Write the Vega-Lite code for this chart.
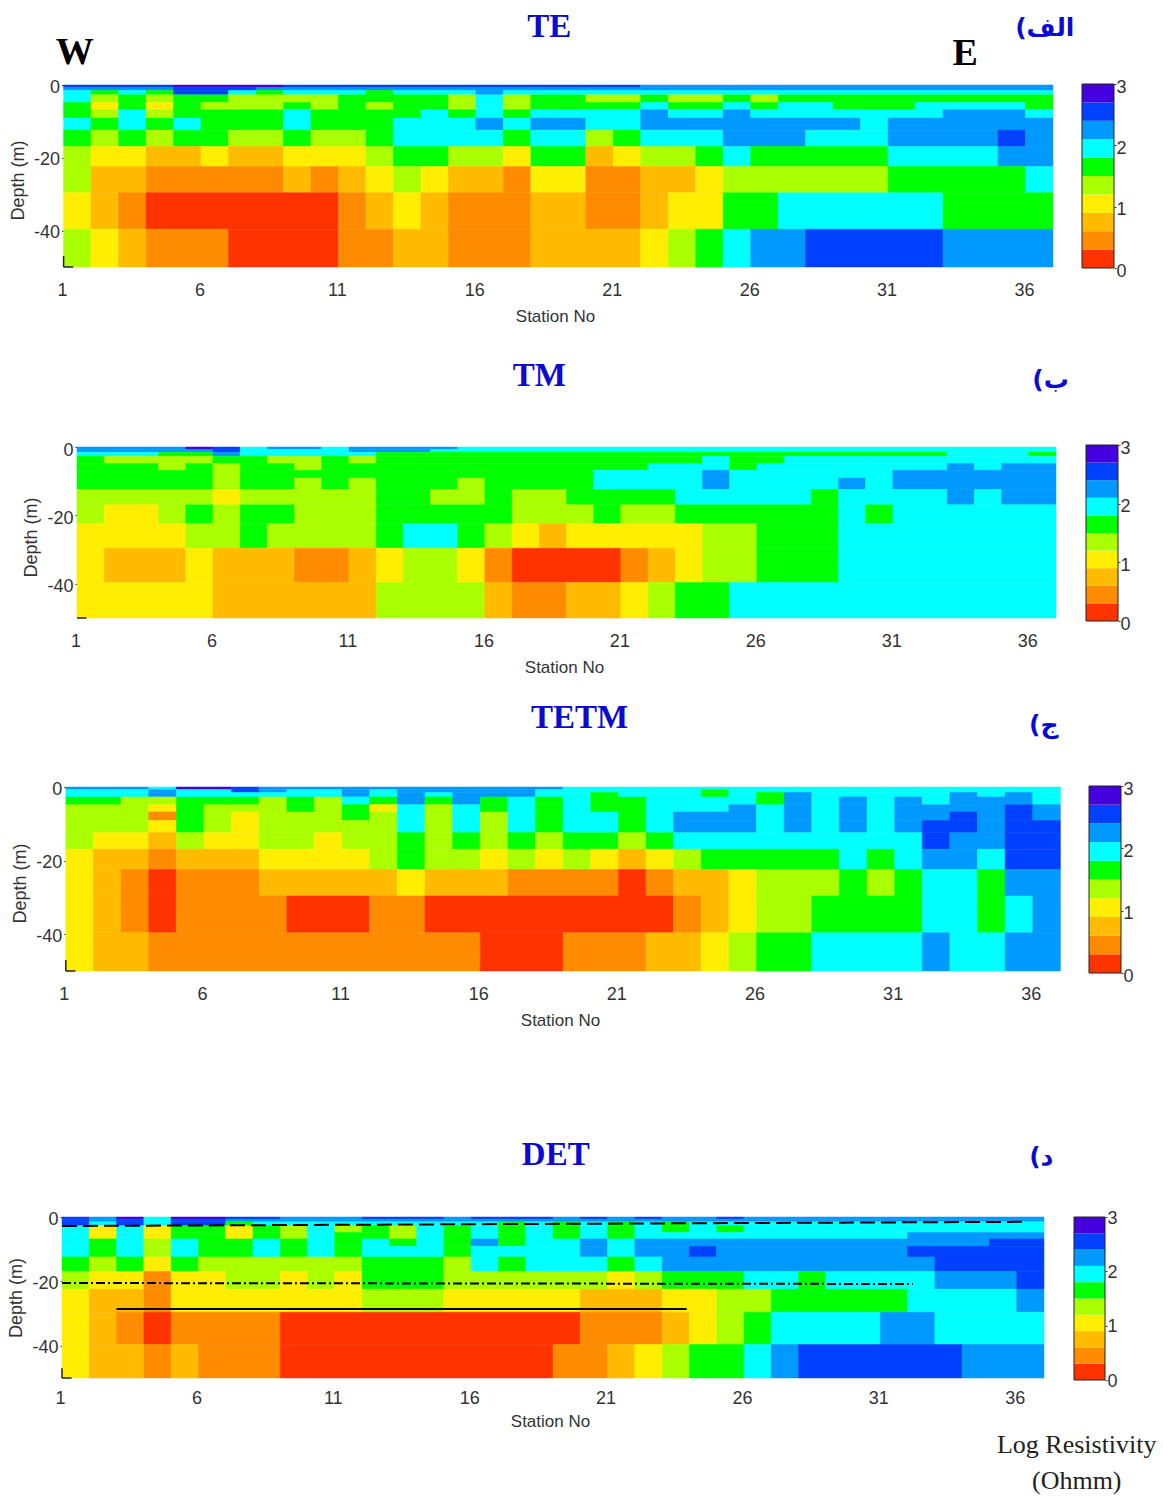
{"$schema":"https://vega.github.io/schema/vega-lite/v6.json","background":"white","padding":0,"bounds":"flush","columns":3,"align":{"row":"each","column":"each"},"spacing":{"row":0,"column":9},
"config":{"view":{"stroke":null},"axis":{"grid":false,"domain":false,"labelFlush":false,"labelFont":"Liberation Sans","labelFontSize":18,"labelColor":"#333","titleColor":"#333","tickColor":"#333"}},
"datasets":{
"bar":[{"t":0,"b":0.3,"v":0.15},{"t":0.3,"b":0.6,"v":0.45},{"t":0.6,"b":0.9,"v":0.75},{"t":0.9,"b":1.2,"v":1.05},{"t":1.2,"b":1.5,"v":1.35},{"t":1.5,"b":1.8,"v":1.65},{"t":1.8,"b":2.1,"v":1.95},{"t":2.1,"b":2.4,"v":2.25},{"t":2.4,"b":2.7,"v":2.55},{"t":2.7,"b":3,"v":2.85}],
"te":[
{"s":1,"e":5,"t":0,"b":-0.7,"v":2.55},{"s":5,"e":9,"t":0,"b":-0.7,"v":2.85},{"s":9,"e":22,"t":0,"b":-0.7,"v":2.55},{"s":22,"e":37,"t":0,"b":-0.7,"v":2.25},
{"s":1,"e":5,"t":-0.7,"b":-1.5,"v":2.25},{"s":5,"e":8,"t":-0.7,"b":-1.5,"v":2.55},{"s":8,"e":37,"t":-0.7,"b":-1.5,"v":2.25},
{"s":1,"e":2,"t":-1.5,"b":-2.7,"v":1.95},{"s":2,"e":3,"t":-1.5,"b":-2.7,"v":1.65},{"s":3,"e":4,"t":-1.5,"b":-2.7,"v":1.95},{"s":4,"e":5,"t":-1.5,"b":-2.7,"v":1.65},{"s":5,"e":7,"t":-1.5,"b":-2.7,"v":2.55},{"s":7,"e":8,"t":-1.5,"b":-2.7,"v":1.95},{"s":8,"e":9,"t":-1.5,"b":-2.7,"v":1.65},{"s":9,"e":12,"t":-1.5,"b":-2.7,"v":1.95},{"s":12,"e":13,"t":-1.5,"b":-2.7,"v":1.65},{"s":13,"e":16,"t":-1.5,"b":-2.7,"v":1.95},{"s":16,"e":17,"t":-1.5,"b":-2.7,"v":2.25},{"s":17,"e":37,"t":-1.5,"b":-2.7,"v":1.95},
{"s":1,"e":2,"t":-2.7,"b":-4.8,"v":1.95},{"s":2,"e":3,"t":-2.7,"b":-4.8,"v":1.35},{"s":3,"e":4,"t":-2.7,"b":-4.8,"v":1.65},{"s":4,"e":5,"t":-2.7,"b":-4.8,"v":1.35},{"s":5,"e":7,"t":-2.7,"b":-4.8,"v":1.65},{"s":7,"e":11,"t":-2.7,"b":-4.8,"v":1.35},{"s":11,"e":15,"t":-2.7,"b":-4.8,"v":1.65},{"s":15,"e":16,"t":-2.7,"b":-4.8,"v":1.35},{"s":16,"e":17,"t":-2.7,"b":-4.8,"v":1.95},{"s":17,"e":18,"t":-2.7,"b":-4.8,"v":1.35},{"s":18,"e":20,"t":-2.7,"b":-4.8,"v":1.65},{"s":20,"e":22,"t":-2.7,"b":-4.8,"v":1.35},{"s":22,"e":23,"t":-2.7,"b":-4.8,"v":1.65},{"s":23,"e":25,"t":-2.7,"b":-4.8,"v":1.35},{"s":25,"e":26,"t":-2.7,"b":-4.8,"v":1.65},{"s":26,"e":27,"t":-2.7,"b":-4.8,"v":1.35},{"s":27,"e":37,"t":-2.7,"b":-4.8,"v":1.65},
{"s":1,"e":2,"t":-4.8,"b":-6.8,"v":1.65},{"s":2,"e":3,"t":-4.8,"b":-6.8,"v":1.05},{"s":3,"e":4,"t":-4.8,"b":-6.8,"v":1.65},{"s":4,"e":5,"t":-4.8,"b":-6.8,"v":1.05},{"s":5,"e":6,"t":-4.8,"b":-6.8,"v":1.65},{"s":6,"e":9,"t":-4.8,"b":-6.8,"v":1.35},{"s":9,"e":10,"t":-4.8,"b":-6.8,"v":1.65},{"s":10,"e":11,"t":-4.8,"b":-6.8,"v":1.35},{"s":11,"e":12,"t":-4.8,"b":-6.8,"v":1.65},{"s":12,"e":13,"t":-4.8,"b":-6.8,"v":1.35},{"s":13,"e":15,"t":-4.8,"b":-6.8,"v":1.65},{"s":15,"e":16,"t":-4.8,"b":-6.8,"v":1.35},{"s":16,"e":17,"t":-4.8,"b":-6.8,"v":1.95},{"s":17,"e":18,"t":-4.8,"b":-6.8,"v":1.35},{"s":18,"e":22,"t":-4.8,"b":-6.8,"v":1.65},{"s":22,"e":23,"t":-4.8,"b":-6.8,"v":1.95},{"s":23,"e":25,"t":-4.8,"b":-6.8,"v":1.65},{"s":25,"e":26,"t":-4.8,"b":-6.8,"v":1.95},{"s":26,"e":27,"t":-4.8,"b":-6.8,"v":1.65},{"s":27,"e":29,"t":-4.8,"b":-6.8,"v":1.95},{"s":29,"e":32,"t":-4.8,"b":-6.8,"v":1.65},{"s":32,"e":36,"t":-4.8,"b":-6.8,"v":1.95},{"s":36,"e":37,"t":-4.8,"b":-6.8,"v":1.65},
{"s":1,"e":2,"t":-6.8,"b":-9.1,"v":1.65},{"s":2,"e":3,"t":-6.8,"b":-9.1,"v":1.35},{"s":3,"e":4,"t":-6.8,"b":-9.1,"v":1.95},{"s":4,"e":5,"t":-6.8,"b":-9.1,"v":1.35},{"s":5,"e":9,"t":-6.8,"b":-9.1,"v":1.65},{"s":9,"e":10,"t":-6.8,"b":-9.1,"v":1.95},{"s":10,"e":14,"t":-6.8,"b":-9.1,"v":1.65},{"s":14,"e":15,"t":-6.8,"b":-9.1,"v":1.95},{"s":15,"e":16,"t":-6.8,"b":-9.1,"v":1.65},{"s":16,"e":17,"t":-6.8,"b":-9.1,"v":1.95},{"s":17,"e":18,"t":-6.8,"b":-9.1,"v":1.65},{"s":18,"e":22,"t":-6.8,"b":-9.1,"v":1.95},{"s":22,"e":23,"t":-6.8,"b":-9.1,"v":2.25},{"s":23,"e":25,"t":-6.8,"b":-9.1,"v":1.95},{"s":25,"e":26,"t":-6.8,"b":-9.1,"v":2.25},{"s":26,"e":33,"t":-6.8,"b":-9.1,"v":1.95},{"s":33,"e":36,"t":-6.8,"b":-9.1,"v":2.25},{"s":36,"e":37,"t":-6.8,"b":-9.1,"v":1.95},
{"s":1,"e":2,"t":-9.1,"b":-12.4,"v":1.95},{"s":2,"e":3,"t":-9.1,"b":-12.4,"v":1.65},{"s":3,"e":4,"t":-9.1,"b":-12.4,"v":1.95},{"s":4,"e":5,"t":-9.1,"b":-12.4,"v":1.65},{"s":5,"e":6,"t":-9.1,"b":-12.4,"v":1.95},{"s":6,"e":9,"t":-9.1,"b":-12.4,"v":1.65},{"s":9,"e":10,"t":-9.1,"b":-12.4,"v":1.95},{"s":10,"e":13,"t":-9.1,"b":-12.4,"v":1.65},{"s":13,"e":16,"t":-9.1,"b":-12.4,"v":1.95},{"s":16,"e":17,"t":-9.1,"b":-12.4,"v":2.25},{"s":17,"e":18,"t":-9.1,"b":-12.4,"v":1.95},{"s":18,"e":20,"t":-9.1,"b":-12.4,"v":2.25},{"s":20,"e":22,"t":-9.1,"b":-12.4,"v":1.95},{"s":22,"e":30,"t":-9.1,"b":-12.4,"v":2.25},{"s":30,"e":31,"t":-9.1,"b":-12.4,"v":1.95},{"s":31,"e":37,"t":-9.1,"b":-12.4,"v":2.25},
{"s":1,"e":2,"t":-12.4,"b":-16.9,"v":1.65},{"s":2,"e":3,"t":-12.4,"b":-16.9,"v":1.35},{"s":3,"e":4,"t":-12.4,"b":-16.9,"v":1.65},{"s":4,"e":5,"t":-12.4,"b":-16.9,"v":1.35},{"s":5,"e":7,"t":-12.4,"b":-16.9,"v":1.65},{"s":7,"e":9,"t":-12.4,"b":-16.9,"v":1.35},{"s":9,"e":10,"t":-12.4,"b":-16.9,"v":1.65},{"s":10,"e":12,"t":-12.4,"b":-16.9,"v":1.35},{"s":12,"e":13,"t":-12.4,"b":-16.9,"v":1.65},{"s":13,"e":17,"t":-12.4,"b":-16.9,"v":1.95},{"s":17,"e":18,"t":-12.4,"b":-16.9,"v":1.65},{"s":18,"e":20,"t":-12.4,"b":-16.9,"v":1.95},{"s":20,"e":21,"t":-12.4,"b":-16.9,"v":1.35},{"s":21,"e":22,"t":-12.4,"b":-16.9,"v":1.65},{"s":22,"e":25,"t":-12.4,"b":-16.9,"v":1.95},{"s":25,"e":28,"t":-12.4,"b":-16.9,"v":2.25},{"s":28,"e":31,"t":-12.4,"b":-16.9,"v":1.95},{"s":31,"e":35,"t":-12.4,"b":-16.9,"v":2.25},{"s":35,"e":36,"t":-12.4,"b":-16.9,"v":2.55},{"s":36,"e":37,"t":-12.4,"b":-16.9,"v":2.25},
{"s":1,"e":2,"t":-16.9,"b":-22.4,"v":1.35},{"s":2,"e":4,"t":-16.9,"b":-22.4,"v":1.05},{"s":4,"e":6,"t":-16.9,"b":-22.4,"v":0.75},{"s":6,"e":7,"t":-16.9,"b":-22.4,"v":1.05},{"s":7,"e":9,"t":-16.9,"b":-22.4,"v":0.75},{"s":9,"e":12,"t":-16.9,"b":-22.4,"v":1.05},{"s":12,"e":13,"t":-16.9,"b":-22.4,"v":1.35},{"s":13,"e":15,"t":-16.9,"b":-22.4,"v":1.65},{"s":15,"e":17,"t":-16.9,"b":-22.4,"v":1.35},{"s":17,"e":18,"t":-16.9,"b":-22.4,"v":1.05},{"s":18,"e":20,"t":-16.9,"b":-22.4,"v":1.65},{"s":20,"e":21,"t":-16.9,"b":-22.4,"v":0.75},{"s":21,"e":22,"t":-16.9,"b":-22.4,"v":1.05},{"s":22,"e":24,"t":-16.9,"b":-22.4,"v":1.35},{"s":24,"e":25,"t":-16.9,"b":-22.4,"v":1.65},{"s":25,"e":26,"t":-16.9,"b":-22.4,"v":1.95},{"s":26,"e":31,"t":-16.9,"b":-22.4,"v":1.65},{"s":31,"e":35,"t":-16.9,"b":-22.4,"v":1.95},{"s":35,"e":37,"t":-16.9,"b":-22.4,"v":2.25},
{"s":1,"e":2,"t":-22.4,"b":-29.6,"v":1.35},{"s":2,"e":4,"t":-22.4,"b":-29.6,"v":0.75},{"s":4,"e":9,"t":-22.4,"b":-29.6,"v":0.45},{"s":9,"e":10,"t":-22.4,"b":-29.6,"v":0.75},{"s":10,"e":11,"t":-22.4,"b":-29.6,"v":0.45},{"s":11,"e":12,"t":-22.4,"b":-29.6,"v":0.75},{"s":12,"e":13,"t":-22.4,"b":-29.6,"v":1.05},{"s":13,"e":14,"t":-22.4,"b":-29.6,"v":1.35},{"s":14,"e":15,"t":-22.4,"b":-29.6,"v":1.05},{"s":15,"e":17,"t":-22.4,"b":-29.6,"v":0.75},{"s":17,"e":18,"t":-22.4,"b":-29.6,"v":0.45},{"s":18,"e":20,"t":-22.4,"b":-29.6,"v":1.05},{"s":20,"e":22,"t":-22.4,"b":-29.6,"v":0.45},{"s":22,"e":24,"t":-22.4,"b":-29.6,"v":0.75},{"s":24,"e":25,"t":-22.4,"b":-29.6,"v":1.05},{"s":25,"e":31,"t":-22.4,"b":-29.6,"v":1.35},{"s":31,"e":36,"t":-22.4,"b":-29.6,"v":1.65},{"s":36,"e":37,"t":-22.4,"b":-29.6,"v":1.95},
{"s":1,"e":2,"t":-29.6,"b":-39.6,"v":1.05},{"s":2,"e":3,"t":-29.6,"b":-39.6,"v":0.75},{"s":3,"e":4,"t":-29.6,"b":-39.6,"v":0.45},{"s":4,"e":11,"t":-29.6,"b":-39.6,"v":0.15},{"s":11,"e":12,"t":-29.6,"b":-39.6,"v":0.45},{"s":12,"e":13,"t":-29.6,"b":-39.6,"v":0.75},{"s":13,"e":14,"t":-29.6,"b":-39.6,"v":1.05},{"s":14,"e":15,"t":-29.6,"b":-39.6,"v":0.75},{"s":15,"e":18,"t":-29.6,"b":-39.6,"v":0.45},{"s":18,"e":20,"t":-29.6,"b":-39.6,"v":0.75},{"s":20,"e":22,"t":-29.6,"b":-39.6,"v":0.45},{"s":22,"e":23,"t":-29.6,"b":-39.6,"v":0.75},{"s":23,"e":25,"t":-29.6,"b":-39.6,"v":1.05},{"s":25,"e":27,"t":-29.6,"b":-39.6,"v":1.65},{"s":27,"e":33,"t":-29.6,"b":-39.6,"v":1.95},{"s":33,"e":37,"t":-29.6,"b":-39.6,"v":1.65},
{"s":1,"e":2,"t":-39.6,"b":-50,"v":1.35},{"s":2,"e":3,"t":-39.6,"b":-50,"v":1.05},{"s":3,"e":4,"t":-39.6,"b":-50,"v":0.75},{"s":4,"e":7,"t":-39.6,"b":-50,"v":0.45},{"s":7,"e":11,"t":-39.6,"b":-50,"v":0.15},{"s":11,"e":13,"t":-39.6,"b":-50,"v":0.45},{"s":13,"e":15,"t":-39.6,"b":-50,"v":0.75},{"s":15,"e":18,"t":-39.6,"b":-50,"v":0.45},{"s":18,"e":22,"t":-39.6,"b":-50,"v":0.75},{"s":22,"e":23,"t":-39.6,"b":-50,"v":1.05},{"s":23,"e":24,"t":-39.6,"b":-50,"v":1.35},{"s":24,"e":25,"t":-39.6,"b":-50,"v":1.65},{"s":25,"e":26,"t":-39.6,"b":-50,"v":1.95},{"s":26,"e":28,"t":-39.6,"b":-50,"v":2.25},{"s":28,"e":33,"t":-39.6,"b":-50,"v":2.55},{"s":33,"e":37,"t":-39.6,"b":-50,"v":2.25}
],
"tm":[
{"s":1,"e":5,"t":0,"b":-0.7,"v":2.25},{"s":5,"e":6,"t":0,"b":-0.7,"v":2.85},{"s":6,"e":7,"t":0,"b":-0.7,"v":2.55},{"s":7,"e":8,"t":0,"b":-0.7,"v":1.95},{"s":8,"e":10,"t":0,"b":-0.7,"v":2.25},{"s":10,"e":11,"t":0,"b":-0.7,"v":1.95},{"s":11,"e":15,"t":0,"b":-0.7,"v":2.25},{"s":15,"e":37,"t":0,"b":-0.7,"v":1.95},
{"s":1,"e":6,"t":-0.7,"b":-1.5,"v":2.25},{"s":6,"e":7,"t":-0.7,"b":-1.5,"v":2.55},{"s":7,"e":11,"t":-0.7,"b":-1.5,"v":1.95},{"s":11,"e":14,"t":-0.7,"b":-1.5,"v":2.25},{"s":14,"e":37,"t":-0.7,"b":-1.5,"v":1.95},
{"s":1,"e":4,"t":-1.5,"b":-2.7,"v":1.95},{"s":4,"e":6,"t":-1.5,"b":-2.7,"v":1.65},{"s":6,"e":7,"t":-1.5,"b":-2.7,"v":2.25},{"s":7,"e":12,"t":-1.5,"b":-2.7,"v":1.95},{"s":12,"e":33,"t":-1.5,"b":-2.7,"v":1.65},{"s":33,"e":36,"t":-1.5,"b":-2.7,"v":1.95},{"s":36,"e":37,"t":-1.5,"b":-2.7,"v":1.65},
{"s":1,"e":2,"t":-2.7,"b":-4.8,"v":1.65},{"s":2,"e":6,"t":-2.7,"b":-4.8,"v":1.35},{"s":6,"e":8,"t":-2.7,"b":-4.8,"v":1.65},{"s":8,"e":10,"t":-2.7,"b":-4.8,"v":1.35},{"s":10,"e":11,"t":-2.7,"b":-4.8,"v":1.65},{"s":11,"e":12,"t":-2.7,"b":-4.8,"v":1.35},{"s":12,"e":24,"t":-2.7,"b":-4.8,"v":1.65},{"s":24,"e":25,"t":-2.7,"b":-4.8,"v":1.95},{"s":25,"e":27,"t":-2.7,"b":-4.8,"v":1.65},{"s":27,"e":37,"t":-2.7,"b":-4.8,"v":1.95},
{"s":1,"e":4,"t":-4.8,"b":-6.8,"v":1.65},{"s":4,"e":5,"t":-4.8,"b":-6.8,"v":1.35},{"s":5,"e":6,"t":-4.8,"b":-6.8,"v":1.65},{"s":6,"e":7,"t":-4.8,"b":-6.8,"v":1.35},{"s":7,"e":9,"t":-4.8,"b":-6.8,"v":1.65},{"s":9,"e":10,"t":-4.8,"b":-6.8,"v":1.35},{"s":10,"e":22,"t":-4.8,"b":-6.8,"v":1.65},{"s":22,"e":25,"t":-4.8,"b":-6.8,"v":1.95},{"s":25,"e":26,"t":-4.8,"b":-6.8,"v":1.65},{"s":26,"e":33,"t":-4.8,"b":-6.8,"v":1.95},{"s":33,"e":34,"t":-4.8,"b":-6.8,"v":2.25},{"s":34,"e":35,"t":-4.8,"b":-6.8,"v":1.95},{"s":35,"e":37,"t":-4.8,"b":-6.8,"v":2.25},
{"s":1,"e":6,"t":-6.8,"b":-9.1,"v":1.65},{"s":6,"e":7,"t":-6.8,"b":-9.1,"v":1.35},{"s":7,"e":20,"t":-6.8,"b":-9.1,"v":1.65},{"s":20,"e":24,"t":-6.8,"b":-9.1,"v":1.95},{"s":24,"e":25,"t":-6.8,"b":-9.1,"v":2.25},{"s":25,"e":31,"t":-6.8,"b":-9.1,"v":1.95},{"s":31,"e":37,"t":-6.8,"b":-9.1,"v":2.25},
{"s":1,"e":6,"t":-9.1,"b":-12.4,"v":1.65},{"s":6,"e":7,"t":-9.1,"b":-12.4,"v":1.35},{"s":7,"e":9,"t":-9.1,"b":-12.4,"v":1.65},{"s":9,"e":10,"t":-9.1,"b":-12.4,"v":1.35},{"s":10,"e":11,"t":-9.1,"b":-12.4,"v":1.65},{"s":11,"e":12,"t":-9.1,"b":-12.4,"v":1.35},{"s":12,"e":15,"t":-9.1,"b":-12.4,"v":1.65},{"s":15,"e":16,"t":-9.1,"b":-12.4,"v":1.35},{"s":16,"e":20,"t":-9.1,"b":-12.4,"v":1.65},{"s":20,"e":24,"t":-9.1,"b":-12.4,"v":1.95},{"s":24,"e":25,"t":-9.1,"b":-12.4,"v":2.25},{"s":25,"e":29,"t":-9.1,"b":-12.4,"v":1.95},{"s":29,"e":30,"t":-9.1,"b":-12.4,"v":2.25},{"s":30,"e":31,"t":-9.1,"b":-12.4,"v":1.95},{"s":31,"e":37,"t":-9.1,"b":-12.4,"v":2.25},
{"s":1,"e":6,"t":-12.4,"b":-16.9,"v":1.35},{"s":6,"e":7,"t":-12.4,"b":-16.9,"v":1.05},{"s":7,"e":12,"t":-12.4,"b":-16.9,"v":1.35},{"s":12,"e":14,"t":-12.4,"b":-16.9,"v":1.65},{"s":14,"e":16,"t":-12.4,"b":-16.9,"v":1.35},{"s":16,"e":17,"t":-12.4,"b":-16.9,"v":1.65},{"s":17,"e":19,"t":-12.4,"b":-16.9,"v":1.35},{"s":19,"e":23,"t":-12.4,"b":-16.9,"v":1.65},{"s":23,"e":28,"t":-12.4,"b":-16.9,"v":1.95},{"s":28,"e":29,"t":-12.4,"b":-16.9,"v":1.65},{"s":29,"e":33,"t":-12.4,"b":-16.9,"v":1.95},{"s":33,"e":34,"t":-12.4,"b":-16.9,"v":2.25},{"s":34,"e":35,"t":-12.4,"b":-16.9,"v":1.95},{"s":35,"e":37,"t":-12.4,"b":-16.9,"v":2.25},
{"s":1,"e":2,"t":-16.9,"b":-22.4,"v":1.35},{"s":2,"e":4,"t":-16.9,"b":-22.4,"v":1.05},{"s":4,"e":5,"t":-16.9,"b":-22.4,"v":1.35},{"s":5,"e":6,"t":-16.9,"b":-22.4,"v":1.65},{"s":6,"e":7,"t":-16.9,"b":-22.4,"v":1.35},{"s":7,"e":9,"t":-16.9,"b":-22.4,"v":1.65},{"s":9,"e":12,"t":-16.9,"b":-22.4,"v":1.35},{"s":12,"e":17,"t":-16.9,"b":-22.4,"v":1.65},{"s":17,"e":20,"t":-16.9,"b":-22.4,"v":1.35},{"s":20,"e":21,"t":-16.9,"b":-22.4,"v":1.65},{"s":21,"e":23,"t":-16.9,"b":-22.4,"v":1.35},{"s":23,"e":29,"t":-16.9,"b":-22.4,"v":1.65},{"s":29,"e":30,"t":-16.9,"b":-22.4,"v":1.95},{"s":30,"e":31,"t":-16.9,"b":-22.4,"v":1.65},{"s":31,"e":37,"t":-16.9,"b":-22.4,"v":1.95},
{"s":1,"e":5,"t":-22.4,"b":-29.6,"v":1.05},{"s":5,"e":7,"t":-22.4,"b":-29.6,"v":1.35},{"s":7,"e":8,"t":-22.4,"b":-29.6,"v":1.65},{"s":8,"e":12,"t":-22.4,"b":-29.6,"v":1.35},{"s":12,"e":13,"t":-22.4,"b":-29.6,"v":1.65},{"s":13,"e":15,"t":-22.4,"b":-29.6,"v":1.95},{"s":15,"e":16,"t":-22.4,"b":-29.6,"v":1.65},{"s":16,"e":17,"t":-22.4,"b":-29.6,"v":1.35},{"s":17,"e":18,"t":-22.4,"b":-29.6,"v":1.05},{"s":18,"e":19,"t":-22.4,"b":-29.6,"v":0.75},{"s":19,"e":24,"t":-22.4,"b":-29.6,"v":1.05},{"s":24,"e":26,"t":-22.4,"b":-29.6,"v":1.35},{"s":26,"e":29,"t":-22.4,"b":-29.6,"v":1.65},{"s":29,"e":37,"t":-22.4,"b":-29.6,"v":1.95},
{"s":1,"e":2,"t":-29.6,"b":-39.6,"v":1.05},{"s":2,"e":5,"t":-29.6,"b":-39.6,"v":0.75},{"s":5,"e":6,"t":-29.6,"b":-39.6,"v":1.05},{"s":6,"e":9,"t":-29.6,"b":-39.6,"v":0.75},{"s":9,"e":11,"t":-29.6,"b":-39.6,"v":0.45},{"s":11,"e":12,"t":-29.6,"b":-39.6,"v":0.75},{"s":12,"e":13,"t":-29.6,"b":-39.6,"v":1.05},{"s":13,"e":15,"t":-29.6,"b":-39.6,"v":1.35},{"s":15,"e":16,"t":-29.6,"b":-39.6,"v":1.05},{"s":16,"e":17,"t":-29.6,"b":-39.6,"v":0.45},{"s":17,"e":21,"t":-29.6,"b":-39.6,"v":0.15},{"s":21,"e":22,"t":-29.6,"b":-39.6,"v":0.45},{"s":22,"e":23,"t":-29.6,"b":-39.6,"v":0.75},{"s":23,"e":24,"t":-29.6,"b":-39.6,"v":1.05},{"s":24,"e":26,"t":-29.6,"b":-39.6,"v":1.35},{"s":26,"e":29,"t":-29.6,"b":-39.6,"v":1.65},{"s":29,"e":37,"t":-29.6,"b":-39.6,"v":1.95},
{"s":1,"e":6,"t":-39.6,"b":-50,"v":1.05},{"s":6,"e":12,"t":-39.6,"b":-50,"v":0.75},{"s":12,"e":16,"t":-39.6,"b":-50,"v":1.35},{"s":16,"e":17,"t":-39.6,"b":-50,"v":0.75},{"s":17,"e":19,"t":-39.6,"b":-50,"v":0.45},{"s":19,"e":21,"t":-39.6,"b":-50,"v":0.75},{"s":21,"e":22,"t":-39.6,"b":-50,"v":1.05},{"s":22,"e":23,"t":-39.6,"b":-50,"v":1.35},{"s":23,"e":25,"t":-39.6,"b":-50,"v":1.65},{"s":25,"e":37,"t":-39.6,"b":-50,"v":1.95}
],
"tetm":[
{"s":1,"e":4,"t":0,"b":-0.7,"v":2.25},{"s":4,"e":5,"t":0,"b":-0.7,"v":1.95},{"s":5,"e":7,"t":0,"b":-0.7,"v":2.85},{"s":7,"e":8,"t":0,"b":-0.7,"v":2.55},{"s":8,"e":19,"t":0,"b":-0.7,"v":2.25},{"s":19,"e":37,"t":0,"b":-0.7,"v":1.95},
{"s":1,"e":4,"t":-0.7,"b":-1.5,"v":1.95},{"s":4,"e":5,"t":-0.7,"b":-1.5,"v":2.25},{"s":5,"e":7,"t":-0.7,"b":-1.5,"v":1.95},{"s":7,"e":8,"t":-0.7,"b":-1.5,"v":2.55},{"s":8,"e":9,"t":-0.7,"b":-1.5,"v":2.25},{"s":9,"e":11,"t":-0.7,"b":-1.5,"v":1.95},{"s":11,"e":12,"t":-0.7,"b":-1.5,"v":2.25},{"s":12,"e":13,"t":-0.7,"b":-1.5,"v":1.95},{"s":13,"e":18,"t":-0.7,"b":-1.5,"v":2.25},{"s":18,"e":24,"t":-0.7,"b":-1.5,"v":1.95},{"s":24,"e":25,"t":-0.7,"b":-1.5,"v":1.65},{"s":25,"e":37,"t":-0.7,"b":-1.5,"v":1.95},
{"s":1,"e":4,"t":-1.5,"b":-2.7,"v":1.95},{"s":4,"e":5,"t":-1.5,"b":-2.7,"v":2.25},{"s":5,"e":11,"t":-1.5,"b":-2.7,"v":1.95},{"s":11,"e":12,"t":-1.5,"b":-2.7,"v":2.25},{"s":12,"e":13,"t":-1.5,"b":-2.7,"v":1.95},{"s":13,"e":14,"t":-1.5,"b":-2.7,"v":2.25},{"s":14,"e":15,"t":-1.5,"b":-2.7,"v":1.95},{"s":15,"e":18,"t":-1.5,"b":-2.7,"v":2.25},{"s":18,"e":20,"t":-1.5,"b":-2.7,"v":1.95},{"s":20,"e":21,"t":-1.5,"b":-2.7,"v":1.65},{"s":21,"e":24,"t":-1.5,"b":-2.7,"v":1.95},{"s":24,"e":25,"t":-1.5,"b":-2.7,"v":1.65},{"s":25,"e":26,"t":-1.5,"b":-2.7,"v":1.95},{"s":26,"e":27,"t":-1.5,"b":-2.7,"v":1.65},{"s":27,"e":28,"t":-1.5,"b":-2.7,"v":2.25},{"s":28,"e":33,"t":-1.5,"b":-2.7,"v":1.95},{"s":33,"e":34,"t":-1.5,"b":-2.7,"v":2.25},{"s":34,"e":35,"t":-1.5,"b":-2.7,"v":1.95},{"s":35,"e":36,"t":-1.5,"b":-2.7,"v":2.25},{"s":36,"e":37,"t":-1.5,"b":-2.7,"v":1.95},
{"s":1,"e":3,"t":-2.7,"b":-4.8,"v":1.65},{"s":3,"e":5,"t":-2.7,"b":-4.8,"v":1.35},{"s":5,"e":8,"t":-2.7,"b":-4.8,"v":1.65},{"s":8,"e":9,"t":-2.7,"b":-4.8,"v":1.35},{"s":9,"e":10,"t":-2.7,"b":-4.8,"v":1.65},{"s":10,"e":11,"t":-2.7,"b":-4.8,"v":1.35},{"s":11,"e":12,"t":-2.7,"b":-4.8,"v":1.95},{"s":12,"e":13,"t":-2.7,"b":-4.8,"v":1.65},{"s":13,"e":14,"t":-2.7,"b":-4.8,"v":2.25},{"s":14,"e":15,"t":-2.7,"b":-4.8,"v":1.65},{"s":15,"e":16,"t":-2.7,"b":-4.8,"v":2.25},{"s":16,"e":17,"t":-2.7,"b":-4.8,"v":1.65},{"s":17,"e":18,"t":-2.7,"b":-4.8,"v":1.95},{"s":18,"e":19,"t":-2.7,"b":-4.8,"v":1.65},{"s":19,"e":20,"t":-2.7,"b":-4.8,"v":1.95},{"s":20,"e":22,"t":-2.7,"b":-4.8,"v":1.65},{"s":22,"e":26,"t":-2.7,"b":-4.8,"v":1.95},{"s":26,"e":27,"t":-2.7,"b":-4.8,"v":1.65},{"s":27,"e":28,"t":-2.7,"b":-4.8,"v":2.25},{"s":28,"e":29,"t":-2.7,"b":-4.8,"v":1.95},{"s":29,"e":30,"t":-2.7,"b":-4.8,"v":2.25},{"s":30,"e":31,"t":-2.7,"b":-4.8,"v":1.95},{"s":31,"e":32,"t":-2.7,"b":-4.8,"v":2.25},{"s":32,"e":33,"t":-2.7,"b":-4.8,"v":1.95},{"s":33,"e":36,"t":-2.7,"b":-4.8,"v":2.25},{"s":36,"e":37,"t":-2.7,"b":-4.8,"v":1.95},
{"s":1,"e":4,"t":-4.8,"b":-6.8,"v":1.35},{"s":4,"e":5,"t":-4.8,"b":-6.8,"v":1.05},{"s":5,"e":6,"t":-4.8,"b":-6.8,"v":1.65},{"s":6,"e":9,"t":-4.8,"b":-6.8,"v":1.35},{"s":9,"e":10,"t":-4.8,"b":-6.8,"v":1.65},{"s":10,"e":11,"t":-4.8,"b":-6.8,"v":1.35},{"s":11,"e":12,"t":-4.8,"b":-6.8,"v":1.65},{"s":12,"e":13,"t":-4.8,"b":-6.8,"v":1.05},{"s":13,"e":14,"t":-4.8,"b":-6.8,"v":1.95},{"s":14,"e":15,"t":-4.8,"b":-6.8,"v":1.35},{"s":15,"e":16,"t":-4.8,"b":-6.8,"v":1.95},{"s":16,"e":17,"t":-4.8,"b":-6.8,"v":1.65},{"s":17,"e":18,"t":-4.8,"b":-6.8,"v":1.95},{"s":18,"e":19,"t":-4.8,"b":-6.8,"v":1.65},{"s":19,"e":20,"t":-4.8,"b":-6.8,"v":1.95},{"s":20,"e":22,"t":-4.8,"b":-6.8,"v":1.65},{"s":22,"e":25,"t":-4.8,"b":-6.8,"v":1.95},{"s":25,"e":26,"t":-4.8,"b":-6.8,"v":2.25},{"s":26,"e":27,"t":-4.8,"b":-6.8,"v":1.95},{"s":27,"e":28,"t":-4.8,"b":-6.8,"v":2.25},{"s":28,"e":29,"t":-4.8,"b":-6.8,"v":1.95},{"s":29,"e":30,"t":-4.8,"b":-6.8,"v":2.25},{"s":30,"e":31,"t":-4.8,"b":-6.8,"v":1.95},{"s":31,"e":35,"t":-4.8,"b":-6.8,"v":2.25},{"s":35,"e":36,"t":-4.8,"b":-6.8,"v":2.55},{"s":36,"e":37,"t":-4.8,"b":-6.8,"v":2.25},
{"s":1,"e":4,"t":-6.8,"b":-9.1,"v":1.35},{"s":4,"e":5,"t":-6.8,"b":-9.1,"v":0.45},{"s":5,"e":6,"t":-6.8,"b":-9.1,"v":1.65},{"s":6,"e":7,"t":-6.8,"b":-9.1,"v":1.35},{"s":7,"e":8,"t":-6.8,"b":-9.1,"v":1.05},{"s":8,"e":11,"t":-6.8,"b":-9.1,"v":1.35},{"s":11,"e":12,"t":-6.8,"b":-9.1,"v":1.65},{"s":12,"e":13,"t":-6.8,"b":-9.1,"v":1.35},{"s":13,"e":14,"t":-6.8,"b":-9.1,"v":1.95},{"s":14,"e":15,"t":-6.8,"b":-9.1,"v":1.35},{"s":15,"e":16,"t":-6.8,"b":-9.1,"v":1.95},{"s":16,"e":17,"t":-6.8,"b":-9.1,"v":1.35},{"s":17,"e":18,"t":-6.8,"b":-9.1,"v":1.95},{"s":18,"e":19,"t":-6.8,"b":-9.1,"v":1.65},{"s":19,"e":21,"t":-6.8,"b":-9.1,"v":1.95},{"s":21,"e":22,"t":-6.8,"b":-9.1,"v":1.65},{"s":22,"e":23,"t":-6.8,"b":-9.1,"v":1.95},{"s":23,"e":26,"t":-6.8,"b":-9.1,"v":2.25},{"s":26,"e":27,"t":-6.8,"b":-9.1,"v":1.95},{"s":27,"e":28,"t":-6.8,"b":-9.1,"v":2.25},{"s":28,"e":29,"t":-6.8,"b":-9.1,"v":1.95},{"s":29,"e":30,"t":-6.8,"b":-9.1,"v":2.25},{"s":30,"e":31,"t":-6.8,"b":-9.1,"v":1.95},{"s":31,"e":33,"t":-6.8,"b":-9.1,"v":2.25},{"s":33,"e":34,"t":-6.8,"b":-9.1,"v":2.55},{"s":34,"e":35,"t":-6.8,"b":-9.1,"v":2.25},{"s":35,"e":36,"t":-6.8,"b":-9.1,"v":2.55},{"s":36,"e":37,"t":-6.8,"b":-9.1,"v":2.25},
{"s":1,"e":4,"t":-9.1,"b":-12.4,"v":1.35},{"s":4,"e":5,"t":-9.1,"b":-12.4,"v":1.05},{"s":5,"e":6,"t":-9.1,"b":-12.4,"v":1.65},{"s":6,"e":7,"t":-9.1,"b":-12.4,"v":1.35},{"s":7,"e":8,"t":-9.1,"b":-12.4,"v":1.05},{"s":8,"e":13,"t":-9.1,"b":-12.4,"v":1.35},{"s":13,"e":14,"t":-9.1,"b":-12.4,"v":1.95},{"s":14,"e":15,"t":-9.1,"b":-12.4,"v":1.35},{"s":15,"e":16,"t":-9.1,"b":-12.4,"v":1.95},{"s":16,"e":17,"t":-9.1,"b":-12.4,"v":1.35},{"s":17,"e":18,"t":-9.1,"b":-12.4,"v":1.95},{"s":18,"e":19,"t":-9.1,"b":-12.4,"v":1.65},{"s":19,"e":21,"t":-9.1,"b":-12.4,"v":1.95},{"s":21,"e":22,"t":-9.1,"b":-12.4,"v":1.65},{"s":22,"e":23,"t":-9.1,"b":-12.4,"v":1.95},{"s":23,"e":26,"t":-9.1,"b":-12.4,"v":2.25},{"s":26,"e":27,"t":-9.1,"b":-12.4,"v":1.95},{"s":27,"e":28,"t":-9.1,"b":-12.4,"v":2.25},{"s":28,"e":29,"t":-9.1,"b":-12.4,"v":1.95},{"s":29,"e":30,"t":-9.1,"b":-12.4,"v":2.25},{"s":30,"e":31,"t":-9.1,"b":-12.4,"v":1.95},{"s":31,"e":32,"t":-9.1,"b":-12.4,"v":2.25},{"s":32,"e":34,"t":-9.1,"b":-12.4,"v":2.55},{"s":34,"e":35,"t":-9.1,"b":-12.4,"v":2.25},{"s":35,"e":37,"t":-9.1,"b":-12.4,"v":2.55},
{"s":1,"e":2,"t":-12.4,"b":-16.9,"v":1.35},{"s":2,"e":4,"t":-12.4,"b":-16.9,"v":1.05},{"s":4,"e":5,"t":-12.4,"b":-16.9,"v":0.75},{"s":5,"e":6,"t":-12.4,"b":-16.9,"v":1.35},{"s":6,"e":8,"t":-12.4,"b":-16.9,"v":1.05},{"s":8,"e":10,"t":-12.4,"b":-16.9,"v":1.35},{"s":10,"e":11,"t":-12.4,"b":-16.9,"v":1.05},{"s":11,"e":13,"t":-12.4,"b":-16.9,"v":1.35},{"s":13,"e":14,"t":-12.4,"b":-16.9,"v":1.65},{"s":14,"e":15,"t":-12.4,"b":-16.9,"v":1.35},{"s":15,"e":16,"t":-12.4,"b":-16.9,"v":1.65},{"s":16,"e":17,"t":-12.4,"b":-16.9,"v":1.35},{"s":17,"e":18,"t":-12.4,"b":-16.9,"v":1.65},{"s":18,"e":19,"t":-12.4,"b":-16.9,"v":1.35},{"s":19,"e":21,"t":-12.4,"b":-16.9,"v":1.65},{"s":21,"e":22,"t":-12.4,"b":-16.9,"v":1.35},{"s":22,"e":23,"t":-12.4,"b":-16.9,"v":1.65},{"s":23,"e":32,"t":-12.4,"b":-16.9,"v":1.95},{"s":32,"e":33,"t":-12.4,"b":-16.9,"v":2.55},{"s":33,"e":35,"t":-12.4,"b":-16.9,"v":2.25},{"s":35,"e":37,"t":-12.4,"b":-16.9,"v":2.55},
{"s":1,"e":2,"t":-16.9,"b":-22.4,"v":1.05},{"s":2,"e":4,"t":-16.9,"b":-22.4,"v":0.75},{"s":4,"e":5,"t":-16.9,"b":-22.4,"v":0.45},{"s":5,"e":8,"t":-16.9,"b":-22.4,"v":0.75},{"s":8,"e":12,"t":-16.9,"b":-22.4,"v":1.05},{"s":12,"e":13,"t":-16.9,"b":-22.4,"v":1.35},{"s":13,"e":14,"t":-16.9,"b":-22.4,"v":1.65},{"s":14,"e":16,"t":-16.9,"b":-22.4,"v":1.35},{"s":16,"e":17,"t":-16.9,"b":-22.4,"v":1.05},{"s":17,"e":18,"t":-16.9,"b":-22.4,"v":1.35},{"s":18,"e":19,"t":-16.9,"b":-22.4,"v":1.05},{"s":19,"e":20,"t":-16.9,"b":-22.4,"v":1.35},{"s":20,"e":21,"t":-16.9,"b":-22.4,"v":1.05},{"s":21,"e":22,"t":-16.9,"b":-22.4,"v":0.75},{"s":22,"e":23,"t":-16.9,"b":-22.4,"v":1.05},{"s":23,"e":24,"t":-16.9,"b":-22.4,"v":1.35},{"s":24,"e":29,"t":-16.9,"b":-22.4,"v":1.65},{"s":29,"e":30,"t":-16.9,"b":-22.4,"v":1.95},{"s":30,"e":31,"t":-16.9,"b":-22.4,"v":1.65},{"s":31,"e":32,"t":-16.9,"b":-22.4,"v":1.95},{"s":32,"e":34,"t":-16.9,"b":-22.4,"v":2.25},{"s":34,"e":35,"t":-16.9,"b":-22.4,"v":1.95},{"s":35,"e":37,"t":-16.9,"b":-22.4,"v":2.55},
{"s":1,"e":2,"t":-22.4,"b":-29.6,"v":1.05},{"s":2,"e":3,"t":-22.4,"b":-29.6,"v":0.75},{"s":3,"e":4,"t":-22.4,"b":-29.6,"v":0.45},{"s":4,"e":5,"t":-22.4,"b":-29.6,"v":0.15},{"s":5,"e":8,"t":-22.4,"b":-29.6,"v":0.45},{"s":8,"e":13,"t":-22.4,"b":-29.6,"v":0.75},{"s":13,"e":14,"t":-22.4,"b":-29.6,"v":1.05},{"s":14,"e":17,"t":-22.4,"b":-29.6,"v":0.75},{"s":17,"e":21,"t":-22.4,"b":-29.6,"v":0.45},{"s":21,"e":22,"t":-22.4,"b":-29.6,"v":0.15},{"s":22,"e":23,"t":-22.4,"b":-29.6,"v":0.45},{"s":23,"e":25,"t":-22.4,"b":-29.6,"v":0.75},{"s":25,"e":26,"t":-22.4,"b":-29.6,"v":1.05},{"s":26,"e":29,"t":-22.4,"b":-29.6,"v":1.35},{"s":29,"e":30,"t":-22.4,"b":-29.6,"v":1.65},{"s":30,"e":31,"t":-22.4,"b":-29.6,"v":1.35},{"s":31,"e":32,"t":-22.4,"b":-29.6,"v":1.65},{"s":32,"e":34,"t":-22.4,"b":-29.6,"v":1.95},{"s":34,"e":35,"t":-22.4,"b":-29.6,"v":1.65},{"s":35,"e":37,"t":-22.4,"b":-29.6,"v":2.25},
{"s":1,"e":2,"t":-29.6,"b":-39.6,"v":1.05},{"s":2,"e":3,"t":-29.6,"b":-39.6,"v":0.75},{"s":3,"e":4,"t":-29.6,"b":-39.6,"v":0.45},{"s":4,"e":5,"t":-29.6,"b":-39.6,"v":0.15},{"s":5,"e":9,"t":-29.6,"b":-39.6,"v":0.45},{"s":9,"e":12,"t":-29.6,"b":-39.6,"v":0.15},{"s":12,"e":14,"t":-29.6,"b":-39.6,"v":0.45},{"s":14,"e":23,"t":-29.6,"b":-39.6,"v":0.15},{"s":23,"e":24,"t":-29.6,"b":-39.6,"v":0.45},{"s":24,"e":25,"t":-29.6,"b":-39.6,"v":0.75},{"s":25,"e":26,"t":-29.6,"b":-39.6,"v":1.05},{"s":26,"e":28,"t":-29.6,"b":-39.6,"v":1.35},{"s":28,"e":32,"t":-29.6,"b":-39.6,"v":1.65},{"s":32,"e":34,"t":-29.6,"b":-39.6,"v":1.95},{"s":34,"e":35,"t":-29.6,"b":-39.6,"v":1.65},{"s":35,"e":36,"t":-29.6,"b":-39.6,"v":1.95},{"s":36,"e":37,"t":-29.6,"b":-39.6,"v":2.25},
{"s":1,"e":2,"t":-39.6,"b":-50,"v":1.05},{"s":2,"e":4,"t":-39.6,"b":-50,"v":0.75},{"s":4,"e":16,"t":-39.6,"b":-50,"v":0.45},{"s":16,"e":19,"t":-39.6,"b":-50,"v":0.15},{"s":19,"e":22,"t":-39.6,"b":-50,"v":0.45},{"s":22,"e":24,"t":-39.6,"b":-50,"v":0.75},{"s":24,"e":25,"t":-39.6,"b":-50,"v":1.05},{"s":25,"e":26,"t":-39.6,"b":-50,"v":1.35},{"s":26,"e":28,"t":-39.6,"b":-50,"v":1.65},{"s":28,"e":32,"t":-39.6,"b":-50,"v":1.95},{"s":32,"e":33,"t":-39.6,"b":-50,"v":2.25},{"s":33,"e":35,"t":-39.6,"b":-50,"v":1.95},{"s":35,"e":37,"t":-39.6,"b":-50,"v":2.25}
],
"det":[
{"s":1,"e":2,"t":0,"b":-0.7,"v":2.55},{"s":2,"e":3,"t":0,"b":-0.7,"v":2.25},{"s":3,"e":4,"t":0,"b":-0.7,"v":2.85},{"s":4,"e":5,"t":0,"b":-0.7,"v":1.95},{"s":5,"e":7,"t":0,"b":-0.7,"v":2.85},{"s":7,"e":9,"t":0,"b":-0.7,"v":2.55},{"s":9,"e":12,"t":0,"b":-0.7,"v":2.25},{"s":12,"e":15,"t":0,"b":-0.7,"v":2.55},{"s":15,"e":16,"t":0,"b":-0.7,"v":2.25},{"s":16,"e":19,"t":0,"b":-0.7,"v":2.55},{"s":19,"e":20,"t":0,"b":-0.7,"v":2.25},{"s":20,"e":21,"t":0,"b":-0.7,"v":2.55},{"s":21,"e":22,"t":0,"b":-0.7,"v":2.25},{"s":22,"e":23,"t":0,"b":-0.7,"v":2.55},{"s":23,"e":25,"t":0,"b":-0.7,"v":2.25},{"s":25,"e":26,"t":0,"b":-0.7,"v":2.55},{"s":26,"e":37,"t":0,"b":-0.7,"v":2.25},
{"s":1,"e":2,"t":-0.7,"b":-1.5,"v":2.55},{"s":2,"e":3,"t":-0.7,"b":-1.5,"v":2.25},{"s":3,"e":4,"t":-0.7,"b":-1.5,"v":2.55},{"s":4,"e":5,"t":-0.7,"b":-1.5,"v":1.95},{"s":5,"e":7,"t":-0.7,"b":-1.5,"v":2.55},{"s":7,"e":37,"t":-0.7,"b":-1.5,"v":2.25},
{"s":1,"e":2,"t":-1.5,"b":-2.7,"v":2.55},{"s":2,"e":3,"t":-1.5,"b":-2.7,"v":1.95},{"s":3,"e":4,"t":-1.5,"b":-2.7,"v":2.55},{"s":4,"e":5,"t":-1.5,"b":-2.7,"v":1.95},{"s":5,"e":7,"t":-1.5,"b":-2.7,"v":2.55},{"s":7,"e":8,"t":-1.5,"b":-2.7,"v":1.65},{"s":8,"e":17,"t":-1.5,"b":-2.7,"v":1.95},{"s":17,"e":18,"t":-1.5,"b":-2.7,"v":1.65},{"s":18,"e":19,"t":-1.5,"b":-2.7,"v":1.95},{"s":19,"e":20,"t":-1.5,"b":-2.7,"v":1.65},{"s":20,"e":21,"t":-1.5,"b":-2.7,"v":1.95},{"s":21,"e":22,"t":-1.5,"b":-2.7,"v":1.65},{"s":22,"e":23,"t":-1.5,"b":-2.7,"v":1.95},{"s":23,"e":24,"t":-1.5,"b":-2.7,"v":1.65},{"s":24,"e":37,"t":-1.5,"b":-2.7,"v":1.95},
{"s":1,"e":2,"t":-2.7,"b":-4.8,"v":1.95},{"s":2,"e":3,"t":-2.7,"b":-4.8,"v":1.05},{"s":3,"e":4,"t":-2.7,"b":-4.8,"v":1.95},{"s":4,"e":5,"t":-2.7,"b":-4.8,"v":1.05},{"s":5,"e":7,"t":-2.7,"b":-4.8,"v":1.65},{"s":7,"e":8,"t":-2.7,"b":-4.8,"v":1.05},{"s":8,"e":9,"t":-2.7,"b":-4.8,"v":1.65},{"s":9,"e":10,"t":-2.7,"b":-4.8,"v":1.35},{"s":10,"e":11,"t":-2.7,"b":-4.8,"v":1.95},{"s":11,"e":12,"t":-2.7,"b":-4.8,"v":1.35},{"s":12,"e":13,"t":-2.7,"b":-4.8,"v":1.65},{"s":13,"e":14,"t":-2.7,"b":-4.8,"v":1.35},{"s":14,"e":15,"t":-2.7,"b":-4.8,"v":1.95},{"s":15,"e":16,"t":-2.7,"b":-4.8,"v":1.65},{"s":16,"e":17,"t":-2.7,"b":-4.8,"v":1.95},{"s":17,"e":18,"t":-2.7,"b":-4.8,"v":1.65},{"s":18,"e":19,"t":-2.7,"b":-4.8,"v":1.95},{"s":19,"e":20,"t":-2.7,"b":-4.8,"v":1.65},{"s":20,"e":21,"t":-2.7,"b":-4.8,"v":1.95},{"s":21,"e":22,"t":-2.7,"b":-4.8,"v":1.65},{"s":22,"e":23,"t":-2.7,"b":-4.8,"v":1.95},{"s":23,"e":24,"t":-2.7,"b":-4.8,"v":1.65},{"s":24,"e":25,"t":-2.7,"b":-4.8,"v":1.95},{"s":25,"e":26,"t":-2.7,"b":-4.8,"v":1.65},{"s":26,"e":37,"t":-2.7,"b":-4.8,"v":1.95},
{"s":1,"e":2,"t":-4.8,"b":-6.8,"v":1.95},{"s":2,"e":3,"t":-4.8,"b":-6.8,"v":1.05},{"s":3,"e":4,"t":-4.8,"b":-6.8,"v":1.95},{"s":4,"e":5,"t":-4.8,"b":-6.8,"v":1.05},{"s":5,"e":7,"t":-4.8,"b":-6.8,"v":1.65},{"s":7,"e":8,"t":-4.8,"b":-6.8,"v":1.05},{"s":8,"e":9,"t":-4.8,"b":-6.8,"v":1.65},{"s":9,"e":10,"t":-4.8,"b":-6.8,"v":1.35},{"s":10,"e":11,"t":-4.8,"b":-6.8,"v":1.95},{"s":11,"e":13,"t":-4.8,"b":-6.8,"v":1.65},{"s":13,"e":14,"t":-4.8,"b":-6.8,"v":1.35},{"s":14,"e":15,"t":-4.8,"b":-6.8,"v":1.95},{"s":15,"e":16,"t":-4.8,"b":-6.8,"v":1.65},{"s":16,"e":17,"t":-4.8,"b":-6.8,"v":1.95},{"s":17,"e":18,"t":-4.8,"b":-6.8,"v":1.65},{"s":18,"e":19,"t":-4.8,"b":-6.8,"v":1.95},{"s":19,"e":20,"t":-4.8,"b":-6.8,"v":1.65},{"s":20,"e":21,"t":-4.8,"b":-6.8,"v":1.95},{"s":21,"e":22,"t":-4.8,"b":-6.8,"v":1.65},{"s":22,"e":32,"t":-4.8,"b":-6.8,"v":1.95},{"s":32,"e":37,"t":-4.8,"b":-6.8,"v":2.25},
{"s":1,"e":2,"t":-6.8,"b":-9.1,"v":1.95},{"s":2,"e":3,"t":-6.8,"b":-9.1,"v":1.65},{"s":3,"e":4,"t":-6.8,"b":-9.1,"v":1.95},{"s":4,"e":5,"t":-6.8,"b":-9.1,"v":1.35},{"s":5,"e":6,"t":-6.8,"b":-9.1,"v":1.95},{"s":6,"e":8,"t":-6.8,"b":-9.1,"v":1.65},{"s":8,"e":9,"t":-6.8,"b":-9.1,"v":1.95},{"s":9,"e":10,"t":-6.8,"b":-9.1,"v":1.65},{"s":10,"e":11,"t":-6.8,"b":-9.1,"v":1.95},{"s":11,"e":12,"t":-6.8,"b":-9.1,"v":1.65},{"s":12,"e":13,"t":-6.8,"b":-9.1,"v":1.95},{"s":13,"e":14,"t":-6.8,"b":-9.1,"v":1.65},{"s":14,"e":15,"t":-6.8,"b":-9.1,"v":1.95},{"s":15,"e":16,"t":-6.8,"b":-9.1,"v":1.65},{"s":16,"e":17,"t":-6.8,"b":-9.1,"v":2.25},{"s":17,"e":18,"t":-6.8,"b":-9.1,"v":1.65},{"s":18,"e":20,"t":-6.8,"b":-9.1,"v":1.95},{"s":20,"e":21,"t":-6.8,"b":-9.1,"v":2.25},{"s":21,"e":22,"t":-6.8,"b":-9.1,"v":1.95},{"s":22,"e":35,"t":-6.8,"b":-9.1,"v":2.25},{"s":35,"e":37,"t":-6.8,"b":-9.1,"v":2.55},
{"s":1,"e":2,"t":-9.1,"b":-12.4,"v":1.95},{"s":2,"e":3,"t":-9.1,"b":-12.4,"v":1.65},{"s":3,"e":4,"t":-9.1,"b":-12.4,"v":1.95},{"s":4,"e":5,"t":-9.1,"b":-12.4,"v":1.35},{"s":5,"e":6,"t":-9.1,"b":-12.4,"v":1.95},{"s":6,"e":8,"t":-9.1,"b":-12.4,"v":1.65},{"s":8,"e":9,"t":-9.1,"b":-12.4,"v":1.95},{"s":9,"e":10,"t":-9.1,"b":-12.4,"v":1.65},{"s":10,"e":11,"t":-9.1,"b":-12.4,"v":1.95},{"s":11,"e":12,"t":-9.1,"b":-12.4,"v":1.65},{"s":12,"e":15,"t":-9.1,"b":-12.4,"v":1.95},{"s":15,"e":16,"t":-9.1,"b":-12.4,"v":1.65},{"s":16,"e":20,"t":-9.1,"b":-12.4,"v":1.95},{"s":20,"e":21,"t":-9.1,"b":-12.4,"v":2.25},{"s":21,"e":22,"t":-9.1,"b":-12.4,"v":1.95},{"s":22,"e":24,"t":-9.1,"b":-12.4,"v":2.25},{"s":24,"e":25,"t":-9.1,"b":-12.4,"v":2.55},{"s":25,"e":32,"t":-9.1,"b":-12.4,"v":2.25},{"s":32,"e":37,"t":-9.1,"b":-12.4,"v":2.55},
{"s":1,"e":2,"t":-12.4,"b":-16.9,"v":1.65},{"s":2,"e":3,"t":-12.4,"b":-16.9,"v":1.35},{"s":3,"e":4,"t":-12.4,"b":-16.9,"v":1.65},{"s":4,"e":5,"t":-12.4,"b":-16.9,"v":1.05},{"s":5,"e":6,"t":-12.4,"b":-16.9,"v":1.65},{"s":6,"e":12,"t":-12.4,"b":-16.9,"v":1.35},{"s":12,"e":15,"t":-12.4,"b":-16.9,"v":1.65},{"s":15,"e":16,"t":-12.4,"b":-16.9,"v":1.35},{"s":16,"e":17,"t":-12.4,"b":-16.9,"v":1.95},{"s":17,"e":18,"t":-12.4,"b":-16.9,"v":1.65},{"s":18,"e":21,"t":-12.4,"b":-16.9,"v":1.95},{"s":21,"e":22,"t":-12.4,"b":-16.9,"v":1.65},{"s":22,"e":23,"t":-12.4,"b":-16.9,"v":1.95},{"s":23,"e":33,"t":-12.4,"b":-16.9,"v":2.25},{"s":33,"e":37,"t":-12.4,"b":-16.9,"v":2.55},
{"s":1,"e":2,"t":-16.9,"b":-22.4,"v":1.35},{"s":2,"e":4,"t":-16.9,"b":-22.4,"v":1.05},{"s":4,"e":5,"t":-16.9,"b":-22.4,"v":0.45},{"s":5,"e":7,"t":-16.9,"b":-22.4,"v":1.05},{"s":7,"e":9,"t":-16.9,"b":-22.4,"v":1.35},{"s":9,"e":10,"t":-16.9,"b":-22.4,"v":1.05},{"s":10,"e":11,"t":-16.9,"b":-22.4,"v":1.35},{"s":11,"e":12,"t":-16.9,"b":-22.4,"v":1.05},{"s":12,"e":15,"t":-16.9,"b":-22.4,"v":1.65},{"s":15,"e":21,"t":-16.9,"b":-22.4,"v":1.35},{"s":21,"e":22,"t":-16.9,"b":-22.4,"v":1.05},{"s":22,"e":23,"t":-16.9,"b":-22.4,"v":1.35},{"s":23,"e":26,"t":-16.9,"b":-22.4,"v":1.65},{"s":26,"e":28,"t":-16.9,"b":-22.4,"v":1.95},{"s":28,"e":29,"t":-16.9,"b":-22.4,"v":1.65},{"s":29,"e":33,"t":-16.9,"b":-22.4,"v":1.95},{"s":33,"e":36,"t":-16.9,"b":-22.4,"v":2.25},{"s":36,"e":37,"t":-16.9,"b":-22.4,"v":2.55},
{"s":1,"e":2,"t":-22.4,"b":-29.6,"v":1.05},{"s":2,"e":4,"t":-22.4,"b":-29.6,"v":0.75},{"s":4,"e":5,"t":-22.4,"b":-29.6,"v":0.45},{"s":5,"e":12,"t":-22.4,"b":-29.6,"v":1.05},{"s":12,"e":15,"t":-22.4,"b":-29.6,"v":1.35},{"s":15,"e":20,"t":-22.4,"b":-29.6,"v":1.05},{"s":20,"e":23,"t":-22.4,"b":-29.6,"v":0.75},{"s":23,"e":25,"t":-22.4,"b":-29.6,"v":1.05},{"s":25,"e":27,"t":-22.4,"b":-29.6,"v":1.35},{"s":27,"e":32,"t":-22.4,"b":-29.6,"v":1.65},{"s":32,"e":36,"t":-22.4,"b":-29.6,"v":1.95},{"s":36,"e":37,"t":-22.4,"b":-29.6,"v":2.25},
{"s":1,"e":2,"t":-29.6,"b":-39.6,"v":1.05},{"s":2,"e":3,"t":-29.6,"b":-39.6,"v":0.75},{"s":3,"e":4,"t":-29.6,"b":-39.6,"v":0.45},{"s":4,"e":5,"t":-29.6,"b":-39.6,"v":0.15},{"s":5,"e":9,"t":-29.6,"b":-39.6,"v":0.45},{"s":9,"e":20,"t":-29.6,"b":-39.6,"v":0.15},{"s":20,"e":23,"t":-29.6,"b":-39.6,"v":0.45},{"s":23,"e":24,"t":-29.6,"b":-39.6,"v":0.75},{"s":24,"e":25,"t":-29.6,"b":-39.6,"v":1.05},{"s":25,"e":26,"t":-29.6,"b":-39.6,"v":1.35},{"s":26,"e":27,"t":-29.6,"b":-39.6,"v":1.65},{"s":27,"e":31,"t":-29.6,"b":-39.6,"v":1.95},{"s":31,"e":33,"t":-29.6,"b":-39.6,"v":2.25},{"s":33,"e":37,"t":-29.6,"b":-39.6,"v":1.95},
{"s":1,"e":2,"t":-39.6,"b":-50,"v":1.05},{"s":2,"e":4,"t":-39.6,"b":-50,"v":0.75},{"s":4,"e":5,"t":-39.6,"b":-50,"v":0.45},{"s":5,"e":6,"t":-39.6,"b":-50,"v":0.75},{"s":6,"e":9,"t":-39.6,"b":-50,"v":0.45},{"s":9,"e":19,"t":-39.6,"b":-50,"v":0.15},{"s":19,"e":21,"t":-39.6,"b":-50,"v":0.45},{"s":21,"e":22,"t":-39.6,"b":-50,"v":0.75},{"s":22,"e":23,"t":-39.6,"b":-50,"v":1.05},{"s":23,"e":24,"t":-39.6,"b":-50,"v":1.35},{"s":24,"e":26,"t":-39.6,"b":-50,"v":1.65},{"s":26,"e":27,"t":-39.6,"b":-50,"v":1.95},{"s":27,"e":28,"t":-39.6,"b":-50,"v":2.25},{"s":28,"e":34,"t":-39.6,"b":-50,"v":2.55},{"s":34,"e":37,"t":-39.6,"b":-50,"v":2.25}
]
},
"concat":[
{"width":51,"height":85,"data":{"values":[{"a":1}]},"mark":{"type":"rect","opacity":0},"encoding":{}},
{"width":1005,"height":1,"data":{"values":[{"a":1}]},"mark":{"type":"rect","opacity":0},"encoding":{}},
{"width":47,"height":1,"data":{"values":[{"a":1}]},"mark":{"type":"rect","opacity":0},"encoding":{}},
{"width":51,"height":362,"data":{"values":[{"a":1}]},"mark":{"type":"rect","opacity":0},"encoding":{}},
{"width":1005,"height":182,"encoding":{"x":{"field":"s","type":"quantitative","scale":{"domain":[1,37],"nice":false,"zero":false,"range":[3.6,993]},"axis":{"values":[1,6,11,16,21,26,31,36],"ticks":false,"labelPadding":14,"labelOffset":-1.5,"title":"Station No","titleX":495,"titleFont":"Liberation Sans","titleFontSize":17,"titleFontWeight":"normal","titlePadding":9}},"y":{"field":"t","type":"quantitative","scale":{"domain":[-50,0],"nice":false,"zero":false},"axis":{"offset":-3.6,"values":[0,-20,-40],"labelExpr":"''+datum.value","labelOffset":2,"tickSize":2,"labelPadding":2,"title":"Depth (m)","titleY":95,"titleFont":"Liberation Sans","titleFontSize":18,"titleFontWeight":"normal","titlePadding":6}}},
"layer":[
{"data":{"name":"te"},"mark":{"type":"rect","strokeWidth":0.5},"encoding":{"x2":{"field":"e"},"y2":{"field":"b"},"color":{"field":"v","type":"quantitative","scale":{"type":"quantize","domain":[0,3],"range":["#ff3300","#ff8c00","#ffbb00","#ffee00","#aaff00","#00ff00","#00ffff","#0099ff","#0040ff","#4400dd"]},"legend":null},"stroke":{"field":"v","type":"quantitative","scale":{"type":"quantize","domain":[0,3],"range":["#ff3300","#ff8c00","#ffbb00","#ffee00","#aaff00","#00ff00","#00ffff","#0099ff","#0040ff","#4400dd"]},"legend":null}}},
{"data":{"values":[{"s":1,"e":1.35,"t":-50,"b":-50},{"s":1,"e":1,"t":-47,"b":-50}]},"mark":{"type":"rule","color":"#222","strokeWidth":1.5},"encoding":{"x2":{"field":"e"},"y2":{"field":"b"}}},
{"data":{"values":[{"s":18.67,"t":15.9,"label":"TE"}]},"mark":{"type":"text","font":"Liberation Serif","fontWeight":"bold","fontSize":33,"color":"#0a0ad2"},"encoding":{"text":{"field":"label"}}},
{"data":{"values":[{"s":36.7,"t":15.7,"label":"(الف"}]},"mark":{"type":"text","font":"DejaVu Sans","fontWeight":"bold","fontSize":25,"color":"#0a0ad2"},"encoding":{"text":{"field":"label"}}},
{"data":{"values":[{"s":1.41,"t":8.8,"label":"W"},{"s":33.8,"t":8.5,"label":"E"}]},"mark":{"type":"text","font":"Liberation Serif","fontWeight":"bold","fontSize":38,"color":"#000"},"encoding":{"text":{"field":"label"}}}
]},
{"width":47,"height":184,"data":{"name":"bar"},"encoding":{"x":{"datum":0,"type":"quantitative","scale":{"domain":[0,1],"range":[8,40]},"axis":null},"x2":{"datum":1},"y":{"field":"t","type":"quantitative","scale":{"domain":[0,3],"nice":false,"zero":false,"range":[183,-1]},"axis":{"orient":"right","offset":-7,"values":[0,1,2,3],"labelOffset":3,"tickSize":2,"labelPadding":0,"title":null}},"y2":{"field":"b"}},"layer":[{"mark":{"type":"rect"},"encoding":{"color":{"field":"v","type":"quantitative","scale":{"type":"quantize","domain":[0,3],"range":["#ff3300","#ff8c00","#ffbb00","#ffee00","#aaff00","#00ff00","#00ffff","#0099ff","#0040ff","#4400dd"]},"legend":null}}},{"data":{"values":[{"t":0,"b":3}]},"mark":{"type":"rect","fill":null,"fillOpacity":0,"stroke":"#222","strokeWidth":1}}]},
{"width":51,"height":340,"data":{"values":[{"a":1}]},"mark":{"type":"rect","opacity":0},"encoding":{}},
{"width":1005,"height":171,"encoding":{"x":{"field":"s","type":"quantitative","scale":{"domain":[1,37],"nice":false,"zero":false,"range":[17,996]},"axis":{"values":[1,6,11,16,21,26,31,36],"ticks":false,"labelPadding":14,"labelOffset":-1.5,"title":"Station No","titleX":504,"titleFont":"Liberation Sans","titleFontSize":17,"titleFontWeight":"normal","titlePadding":9}},"y":{"field":"t","type":"quantitative","scale":{"domain":[-50,0],"nice":false,"zero":false},"axis":{"offset":-17,"values":[0,-20,-40],"labelExpr":"''+datum.value","labelOffset":3,"tickSize":2,"labelPadding":2,"title":"Depth (m)","titleY":90,"titleFont":"Liberation Sans","titleFontSize":18,"titleFontWeight":"normal","titlePadding":6}}},
"layer":[
{"data":{"name":"tm"},"mark":{"type":"rect","strokeWidth":0.5},"encoding":{"x2":{"field":"e"},"y2":{"field":"b"},"color":{"field":"v","type":"quantitative","scale":{"type":"quantize","domain":[0,3],"range":["#ff3300","#ff8c00","#ffbb00","#ffee00","#aaff00","#00ff00","#00ffff","#0099ff","#0040ff","#4400dd"]},"legend":null},"stroke":{"field":"v","type":"quantitative","scale":{"type":"quantize","domain":[0,3],"range":["#ff3300","#ff8c00","#ffbb00","#ffee00","#aaff00","#00ff00","#00ffff","#0099ff","#0040ff","#4400dd"]},"legend":null}}},
{"data":{"values":[{"s":1,"e":1.35,"t":-50,"b":-50}]},"mark":{"type":"rule","color":"#222","strokeWidth":1.5},"encoding":{"x2":{"field":"e"},"y2":{"field":"b"}}},
{"data":{"values":[{"s":18.0,"t":20.8,"label":"TM"}]},"mark":{"type":"text","font":"Liberation Serif","fontWeight":"bold","fontSize":33,"color":"#0a0ad2"},"encoding":{"text":{"field":"label"}}},
{"data":{"values":[{"s":36.8,"t":19.6,"label":"(ب"}]},"mark":{"type":"text","font":"DejaVu Sans","fontWeight":"bold","fontSize":25,"color":"#0a0ad2"},"encoding":{"text":{"field":"label"}}}
]},
{"width":47,"height":175,"data":{"name":"bar"},"encoding":{"x":{"datum":0,"type":"quantitative","scale":{"domain":[0,1],"range":[12,44]},"axis":null},"x2":{"datum":1},"y":{"field":"t","type":"quantitative","scale":{"domain":[0,3],"nice":false,"zero":false,"range":[174,-2]},"axis":{"orient":"right","offset":-3,"values":[0,1,2,3],"labelOffset":3,"tickSize":2,"labelPadding":0,"title":null}},"y2":{"field":"b"}},"layer":[{"mark":{"type":"rect"},"encoding":{"color":{"field":"v","type":"quantitative","scale":{"type":"quantize","domain":[0,3],"range":["#ff3300","#ff8c00","#ffbb00","#ffee00","#aaff00","#00ff00","#00ffff","#0099ff","#0040ff","#4400dd"]},"legend":null}}},{"data":{"values":[{"t":0,"b":3}]},"mark":{"type":"rect","fill":null,"fillOpacity":0,"stroke":"#222","strokeWidth":1}}]},
{"width":51,"height":430,"data":{"values":[{"a":1}]},"mark":{"type":"rect","opacity":0},"encoding":{}},
{"width":1005,"height":184,"encoding":{"x":{"field":"s","type":"quantitative","scale":{"domain":[1,37],"nice":false,"zero":false,"range":[5.8,1000.4]},"axis":{"values":[1,6,11,16,21,26,31,36],"ticks":false,"labelPadding":14,"labelOffset":-2,"title":"Station No","titleX":500,"titleFont":"Liberation Sans","titleFontSize":17,"titleFontWeight":"normal","titlePadding":9}},"y":{"field":"t","type":"quantitative","scale":{"domain":[-50,0],"nice":false,"zero":false},"axis":{"offset":-5.8,"values":[0,-20,-40],"labelExpr":"''+datum.value","labelOffset":2,"tickSize":2,"labelPadding":2,"title":"Depth (m)","titleY":96,"titleFont":"Liberation Sans","titleFontSize":18,"titleFontWeight":"normal","titlePadding":6}}},
"layer":[
{"data":{"name":"tetm"},"mark":{"type":"rect","strokeWidth":0.5},"encoding":{"x2":{"field":"e"},"y2":{"field":"b"},"color":{"field":"v","type":"quantitative","scale":{"type":"quantize","domain":[0,3],"range":["#ff3300","#ff8c00","#ffbb00","#ffee00","#aaff00","#00ff00","#00ffff","#0099ff","#0040ff","#4400dd"]},"legend":null},"stroke":{"field":"v","type":"quantitative","scale":{"type":"quantize","domain":[0,3],"range":["#ff3300","#ff8c00","#ffbb00","#ffee00","#aaff00","#00ff00","#00ffff","#0099ff","#0040ff","#4400dd"]},"legend":null}}},
{"data":{"values":[{"s":1,"e":1.35,"t":-50,"b":-50},{"s":1,"e":1,"t":-47,"b":-50}]},"mark":{"type":"rule","color":"#222","strokeWidth":1.5},"encoding":{"x2":{"field":"e"},"y2":{"field":"b"}}},
{"data":{"values":[{"s":19.6,"t":18.75,"label":"TETM"}]},"mark":{"type":"text","font":"Liberation Serif","fontWeight":"bold","fontSize":33,"color":"#0a0ad2"},"encoding":{"text":{"field":"label"}}},
{"data":{"values":[{"s":36.4,"t":16.8,"label":"(ج"}]},"mark":{"type":"text","font":"DejaVu Sans","fontWeight":"bold","fontSize":25,"color":"#0a0ad2"},"encoding":{"text":{"field":"label"}}}
]},
{"width":47,"height":186,"data":{"name":"bar"},"encoding":{"x":{"datum":0,"type":"quantitative","scale":{"domain":[0,1],"range":[15,47]},"axis":null},"x2":{"datum":1},"y":{"field":"t","type":"quantitative","scale":{"domain":[0,3],"nice":false,"zero":false,"range":[186,-1]},"axis":{"orient":"right","offset":0,"values":[0,1,2,3],"labelOffset":3,"tickSize":2,"labelPadding":0,"title":null}},"y2":{"field":"b"}},"layer":[{"mark":{"type":"rect"},"encoding":{"color":{"field":"v","type":"quantitative","scale":{"type":"quantize","domain":[0,3],"range":["#ff3300","#ff8c00","#ffbb00","#ffee00","#aaff00","#00ff00","#00ffff","#0099ff","#0040ff","#4400dd"]},"legend":null}}},{"data":{"values":[{"t":0,"b":3}]},"mark":{"type":"rect","fill":null,"fillOpacity":0,"stroke":"#222","strokeWidth":1}}]},
{"width":51,"height":282,"data":{"values":[{"a":1}]},"mark":{"type":"rect","opacity":0},"encoding":{}},
{"width":1005,"height":161,"encoding":{"x":{"field":"s","type":"quantitative","scale":{"domain":[1,37],"nice":false,"zero":false,"range":[2,984]},"axis":{"values":[1,6,11,16,21,26,31,36],"ticks":false,"labelPadding":11,"labelOffset":-2,"title":"Station No","titleX":490,"titleFont":"Liberation Sans","titleFontSize":17,"titleFontWeight":"normal","titlePadding":6}},"y":{"field":"t","type":"quantitative","scale":{"domain":[-50,0],"nice":false,"zero":false},"axis":{"offset":-2,"values":[0,-20,-40],"labelExpr":"''+datum.value","labelOffset":2,"tickSize":2,"labelPadding":2,"title":"Depth (m)","titleFont":"Liberation Sans","titleFontSize":18,"titleFontWeight":"normal","titlePadding":6}}},
"layer":[
{"data":{"name":"det"},"mark":{"type":"rect","strokeWidth":0.5},"encoding":{"x2":{"field":"e"},"y2":{"field":"b"},"color":{"field":"v","type":"quantitative","scale":{"type":"quantize","domain":[0,3],"range":["#ff3300","#ff8c00","#ffbb00","#ffee00","#aaff00","#00ff00","#00ffff","#0099ff","#0040ff","#4400dd"]},"legend":null},"stroke":{"field":"v","type":"quantitative","scale":{"type":"quantize","domain":[0,3],"range":["#ff3300","#ff8c00","#ffbb00","#ffee00","#aaff00","#00ff00","#00ffff","#0099ff","#0040ff","#4400dd"]},"legend":null}}},
{"data":{"values":[{"s":1,"e":1.35,"t":-50,"b":-50},{"s":1,"e":1,"t":-47,"b":-50}]},"mark":{"type":"rule","color":"#222","strokeWidth":1.5},"encoding":{"x2":{"field":"e"},"y2":{"field":"b"}}},
{"data":{"values":[{"s":1,"e":36.2,"t":-2.8,"b":-1.5,"k":"shallow"},{"s":1,"e":32.2,"t":-20.5,"b":-20.8,"k":"middle"},{"s":3,"e":23.9,"t":-28.6,"b":-28.6,"k":"deep"}]},"mark":{"type":"rule","color":"#000","strokeWidth":2},"encoding":{"x2":{"field":"e"},"y2":{"field":"b"},"strokeDash":{"field":"k","type":"nominal","scale":{"domain":["shallow","middle","deep"],"range":[[15,6],[9,3,2,3],[1,0]]},"legend":null}}},
{"data":{"values":[{"s":19.1,"t":19.25,"label":"DET"}]},"mark":{"type":"text","font":"Liberation Serif","fontWeight":"bold","fontSize":33,"color":"#0a0ad2"},"encoding":{"text":{"field":"label"}}},
{"data":{"values":[{"s":36.9,"t":18.6,"label":"(د"}]},"mark":{"type":"text","font":"DejaVu Sans","fontWeight":"bold","fontSize":25,"color":"#0a0ad2"},"encoding":{"text":{"field":"label"}}},
{"data":{"values":[{"s":38.2,"t":-70.8,"label":"Log Resistivity"},{"s":38.2,"t":-82,"label":"(Ohmm)"}]},"mark":{"type":"text","font":"Liberation Serif","fontSize":26,"color":"#222"},"encoding":{"text":{"field":"label"}}}
]},
{"width":47,"height":163,"data":{"name":"bar"},"encoding":{"x":{"datum":0,"type":"quantitative","scale":{"domain":[0,1],"range":[0,31]},"axis":null},"x2":{"datum":1},"y":{"field":"t","type":"quantitative","scale":{"domain":[0,3],"nice":false,"zero":false,"range":[163,0]},"axis":{"orient":"right","offset":-16,"values":[0,1,2,3],"labelOffset":1,"tickSize":2,"labelPadding":0,"title":null}},"y2":{"field":"b"}},"layer":[{"mark":{"type":"rect"},"encoding":{"color":{"field":"v","type":"quantitative","scale":{"type":"quantize","domain":[0,3],"range":["#ff3300","#ff8c00","#ffbb00","#ffee00","#aaff00","#00ff00","#00ffff","#0099ff","#0040ff","#4400dd"]},"legend":null}}},{"data":{"values":[{"t":0,"b":3}]},"mark":{"type":"rect","fill":null,"fillOpacity":0,"stroke":"#222","strokeWidth":1}}]}
]}
